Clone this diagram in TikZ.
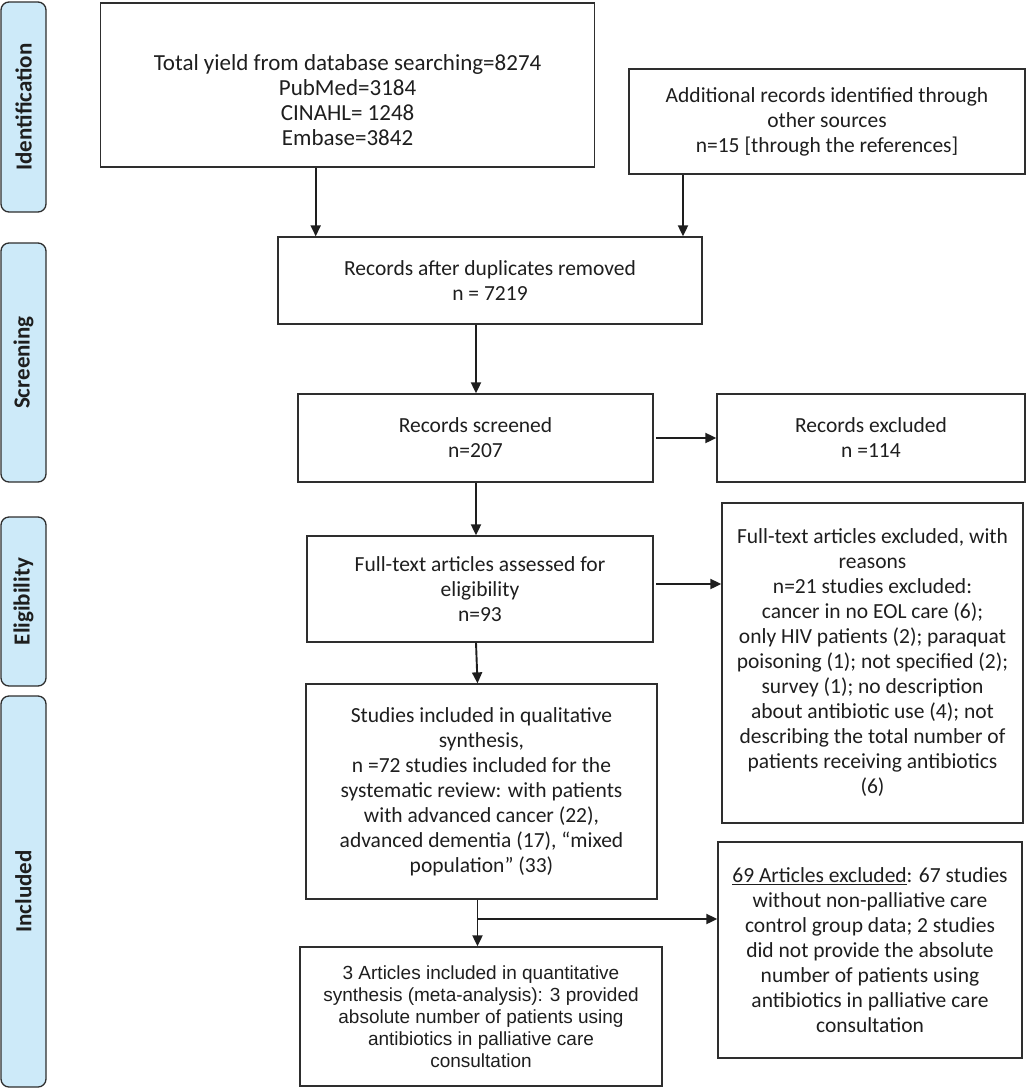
\documentclass[tikz,border=0pt]{standalone}
\usepackage{fontspec}
\setmainfont{Carlito}
\newfontfamily\arialfont{Liberation Sans}
\usetikzlibrary{arrows.meta,calc}
\definecolor{sidefill}{HTML}{CDEAF9}
\definecolor{edge}{HTML}{2E2E2E}
\definecolor{ink}{HTML}{1E1E1E}
\begin{document}
\begin{tikzpicture}[x=1pt,y=-1pt,
  box/.style={draw=edge,line width=1.3pt,rectangle,inner sep=0pt,align=center,text=ink,
    font=\fontsize{21.5}{25}\selectfont},
  txt/.style={inner sep=0pt,align=center,text=ink,font=\fontsize{23}{25}\selectfont},
  side/.style={draw=edge,line width=1.3pt,fill=sidefill,rounded corners=8pt,inner sep=0pt,
    minimum width=45pt,text=ink},
  sidelab/.style={rotate=90,inner sep=0pt,text=ink,font=\fontsize{23}{26}\selectfont\bfseries},
  arr/.style={draw=ink,line width=1.9pt,-{Triangle[length=11pt,width=10pt]}},
  ln/.style={draw=ink,line width=1.9pt}]
\useasboundingbox (0,0) rectangle (1027,1088);
% side bars
\node[side,minimum height=210pt] (sid) at (23.5,107) {};
\node[sidelab] (sidl) at (sid.center) {Identification};
\node[side,minimum height=239pt] (sscr) at (23.5,362.5) {};
\node[sidelab] (sscrl) at (sscr.center) {Screening};
\node[side,minimum height=169pt] (sel) at (23.5,601.5) {};
\node[sidelab] (sell) at (sel.center) {Eligibility};
\node[side,minimum height=391pt] (sin) at (23.5,891.5) {};
\node[sidelab] (sinl) at (sin.center) {Included};
% boxes
\node[box,minimum width=494pt,minimum height=164pt] (total) at (347.6,85) {};
\node[txt] (totalt) at (347.6,100) {Total yield from database searching=8274\\PubMed=3184\\CINAHL= 1248\\Embase=3842};
\node[box,minimum width=396pt,minimum height=105pt] (addl) at (827,121.5)
  {Additional records identified through\\other sources\\n=15 [through the references]};
\node[box,minimum width=424pt,minimum height=87pt] (dup) at (490,280.5)
  {Records after duplicates removed\\n = 7219};
\node[box,minimum width=355pt,minimum height=88pt] (scr) at (475.5,438)
  {Records screened\\n=207};
\node[box,minimum width=308pt,minimum height=88pt] (rexc) at (871,438)
  {Records excluded\\n =114};
\node[box,minimum width=346pt,minimum height=106pt] (ft) at (480,589)
  {Full-text articles assessed for\\eligibility\\n=93};
\node[box,minimum width=301pt,minimum height=320pt] (ftex) at (872.5,663)
  {Full-text articles excluded, with\\reasons\\n=21 studies excluded:\\cancer in no EOL care (6);\\only HIV patients (2); paraquat\\poisoning (1); not specified (2);\\survey (1); no description\\about antibiotic use (4); not\\describing the total number of\\patients receiving antibiotics\\(6)};
\node[box,minimum width=351pt,minimum height=215pt] (stud) at (481.5,791.5)
  {Studies included in qualitative\\synthesis,\\n =72 studies included for the\\systematic review: with patients\\with advanced cancer (22),\\advanced dementia (17), ``mixed\\population'' (33)};
\node[box,minimum width=362pt,minimum height=139pt,font=\arialfont\fontsize{19}{22}\selectfont] (quant) at (481,1016.5)
  {3 Articles included in quantitative\\synthesis (meta-analysis): 3 provided\\absolute number of patients using\\antibiotics in palliative care\\consultation};
\node[box,minimum width=304pt,minimum height=216pt] (ex69) at (870,950)
  {\underline{69 Articles excluded}: 67 studies\\without non-palliative care\\control group data; 2 studies\\did not provide the absolute\\number of patients using\\antibiotics in palliative care\\consultation};
% connector coordinates
\coordinate (c1) at (315.7,0);
\coordinate (c2) at (683,0);
\coordinate (c3) at (476,0);
\coordinate (c4) at (477.5,0);
\coordinate (r1) at (656,438);
\coordinate (r2) at (656,584);
\coordinate (b1) at (477.5,919);
% connectors
\draw[arr] (total.south -| c1) -- (dup.north -| c1);
\draw[arr] (addl.south -| c2) -- (dup.north -| c2);
\draw[arr] (dup.south -| c3) -- (scr.north -| c3);
\draw[arr] (r1) -- (rexc.west |- r1);
\draw[arr] (scr.south -| c3) -- (ft.north -| c3);
\draw[arr] (r2) -- (ftex.west |- r2);
\draw[arr] (ft.south -| c3) -- (stud.north -| c4);
\draw[arr] (stud.south -| c4) -- (quant.north -| c4);
\draw[arr] (b1) -- (ex69.west |- b1);
\end{tikzpicture}
\end{document}
